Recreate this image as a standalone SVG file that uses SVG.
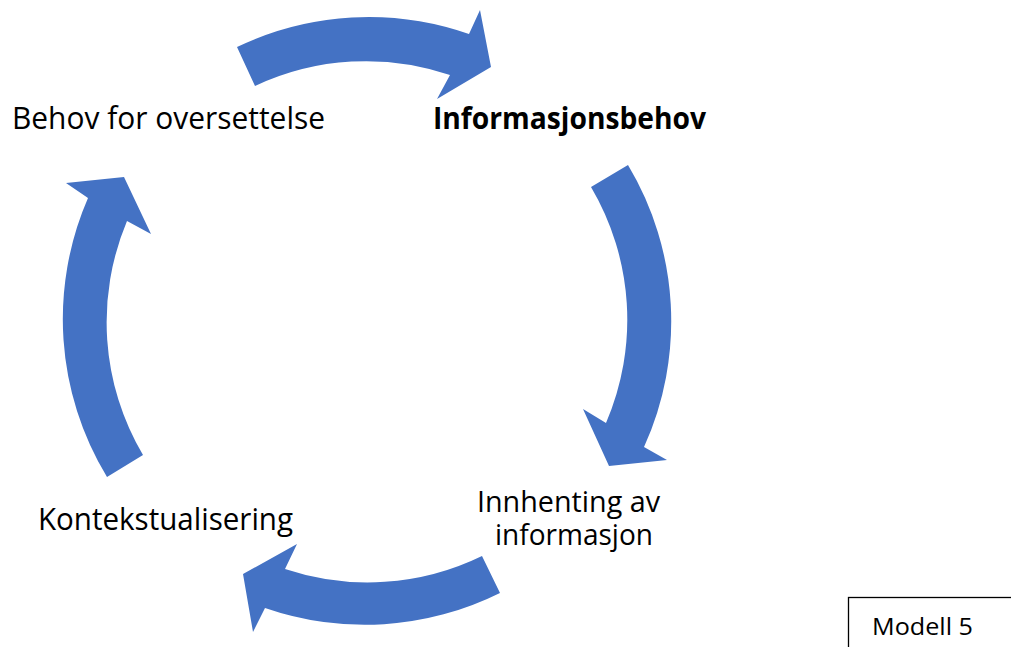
<svg xmlns="http://www.w3.org/2000/svg" width="1011" height="647" viewBox="0 0 1011 647">
  <style>
    .arrow { fill: #4472C4; }
    .label { font-family: "Open Sans", "Liberation Sans", sans-serif; font-size: 31px; fill: #000; }
    .small { font-size: 29px; }
    .bold { font-weight: bold; }
    .tag { font-family: "Open Sans", "Liberation Sans", sans-serif; font-size: 23px; fill: #000; }
  </style>
  <rect width="1011" height="647" fill="#fff"/>

  <!-- curved block arrows forming the cycle -->
  <g id="connectors">
    <path id="arrow-top" class="arrow" d="M237,47 A304,304 0 0 1 469,34 L480,10 L491,67 L437,99 L450,75 A261,261 0 0 0 255,86 Z"/>
    <path id="arrow-right" class="arrow" d="M628,165 A304,304 0 0 1 644,447 L667,460 L609,466 L583,409 L606,423 A261,261 0 0 0 591,187 Z"/>
    <path id="arrow-bottom" class="arrow" d="M500,593 A304,304 0 0 1 265,608 L253,632 L243,574 L297,544 L285,569 A261,261 0 0 0 482,556 Z"/>
    <path id="arrow-left" class="arrow" d="M107,477 A304,304 0 0 1 88,198 L66,183 L124,177 L151,234 L127,221 A261,261 0 0 0 143,455 Z"/>
  </g>

  <g id="node-behov-oversettelse">
    <text class="label" x="12" y="129" textLength="313" lengthAdjust="spacingAndGlyphs">Behov for oversettelse</text>
  </g>
  <g id="node-informasjonsbehov">
    <text class="label bold" x="433" y="129" textLength="273" lengthAdjust="spacingAndGlyphs">Informasjonsbehov</text>
  </g>
  <g id="node-innhenting">
    <text class="label small" x="477" y="512" textLength="183" lengthAdjust="spacingAndGlyphs">Innhenting av</text>
    <text class="label small" x="495" y="545" textLength="158" lengthAdjust="spacingAndGlyphs">informasjon</text>
  </g>
  <g id="node-kontekstualisering">
    <text class="label" x="38" y="530" textLength="255" lengthAdjust="spacingAndGlyphs">Kontekstualisering</text>
  </g>

  <g id="node-modell">
    <rect x="848.5" y="597.5" width="200" height="100" fill="#fff" stroke="#000" stroke-width="1.3"/>
    <text class="tag" x="872" y="635" textLength="101" lengthAdjust="spacingAndGlyphs">Modell 5</text>
  </g>
</svg>
